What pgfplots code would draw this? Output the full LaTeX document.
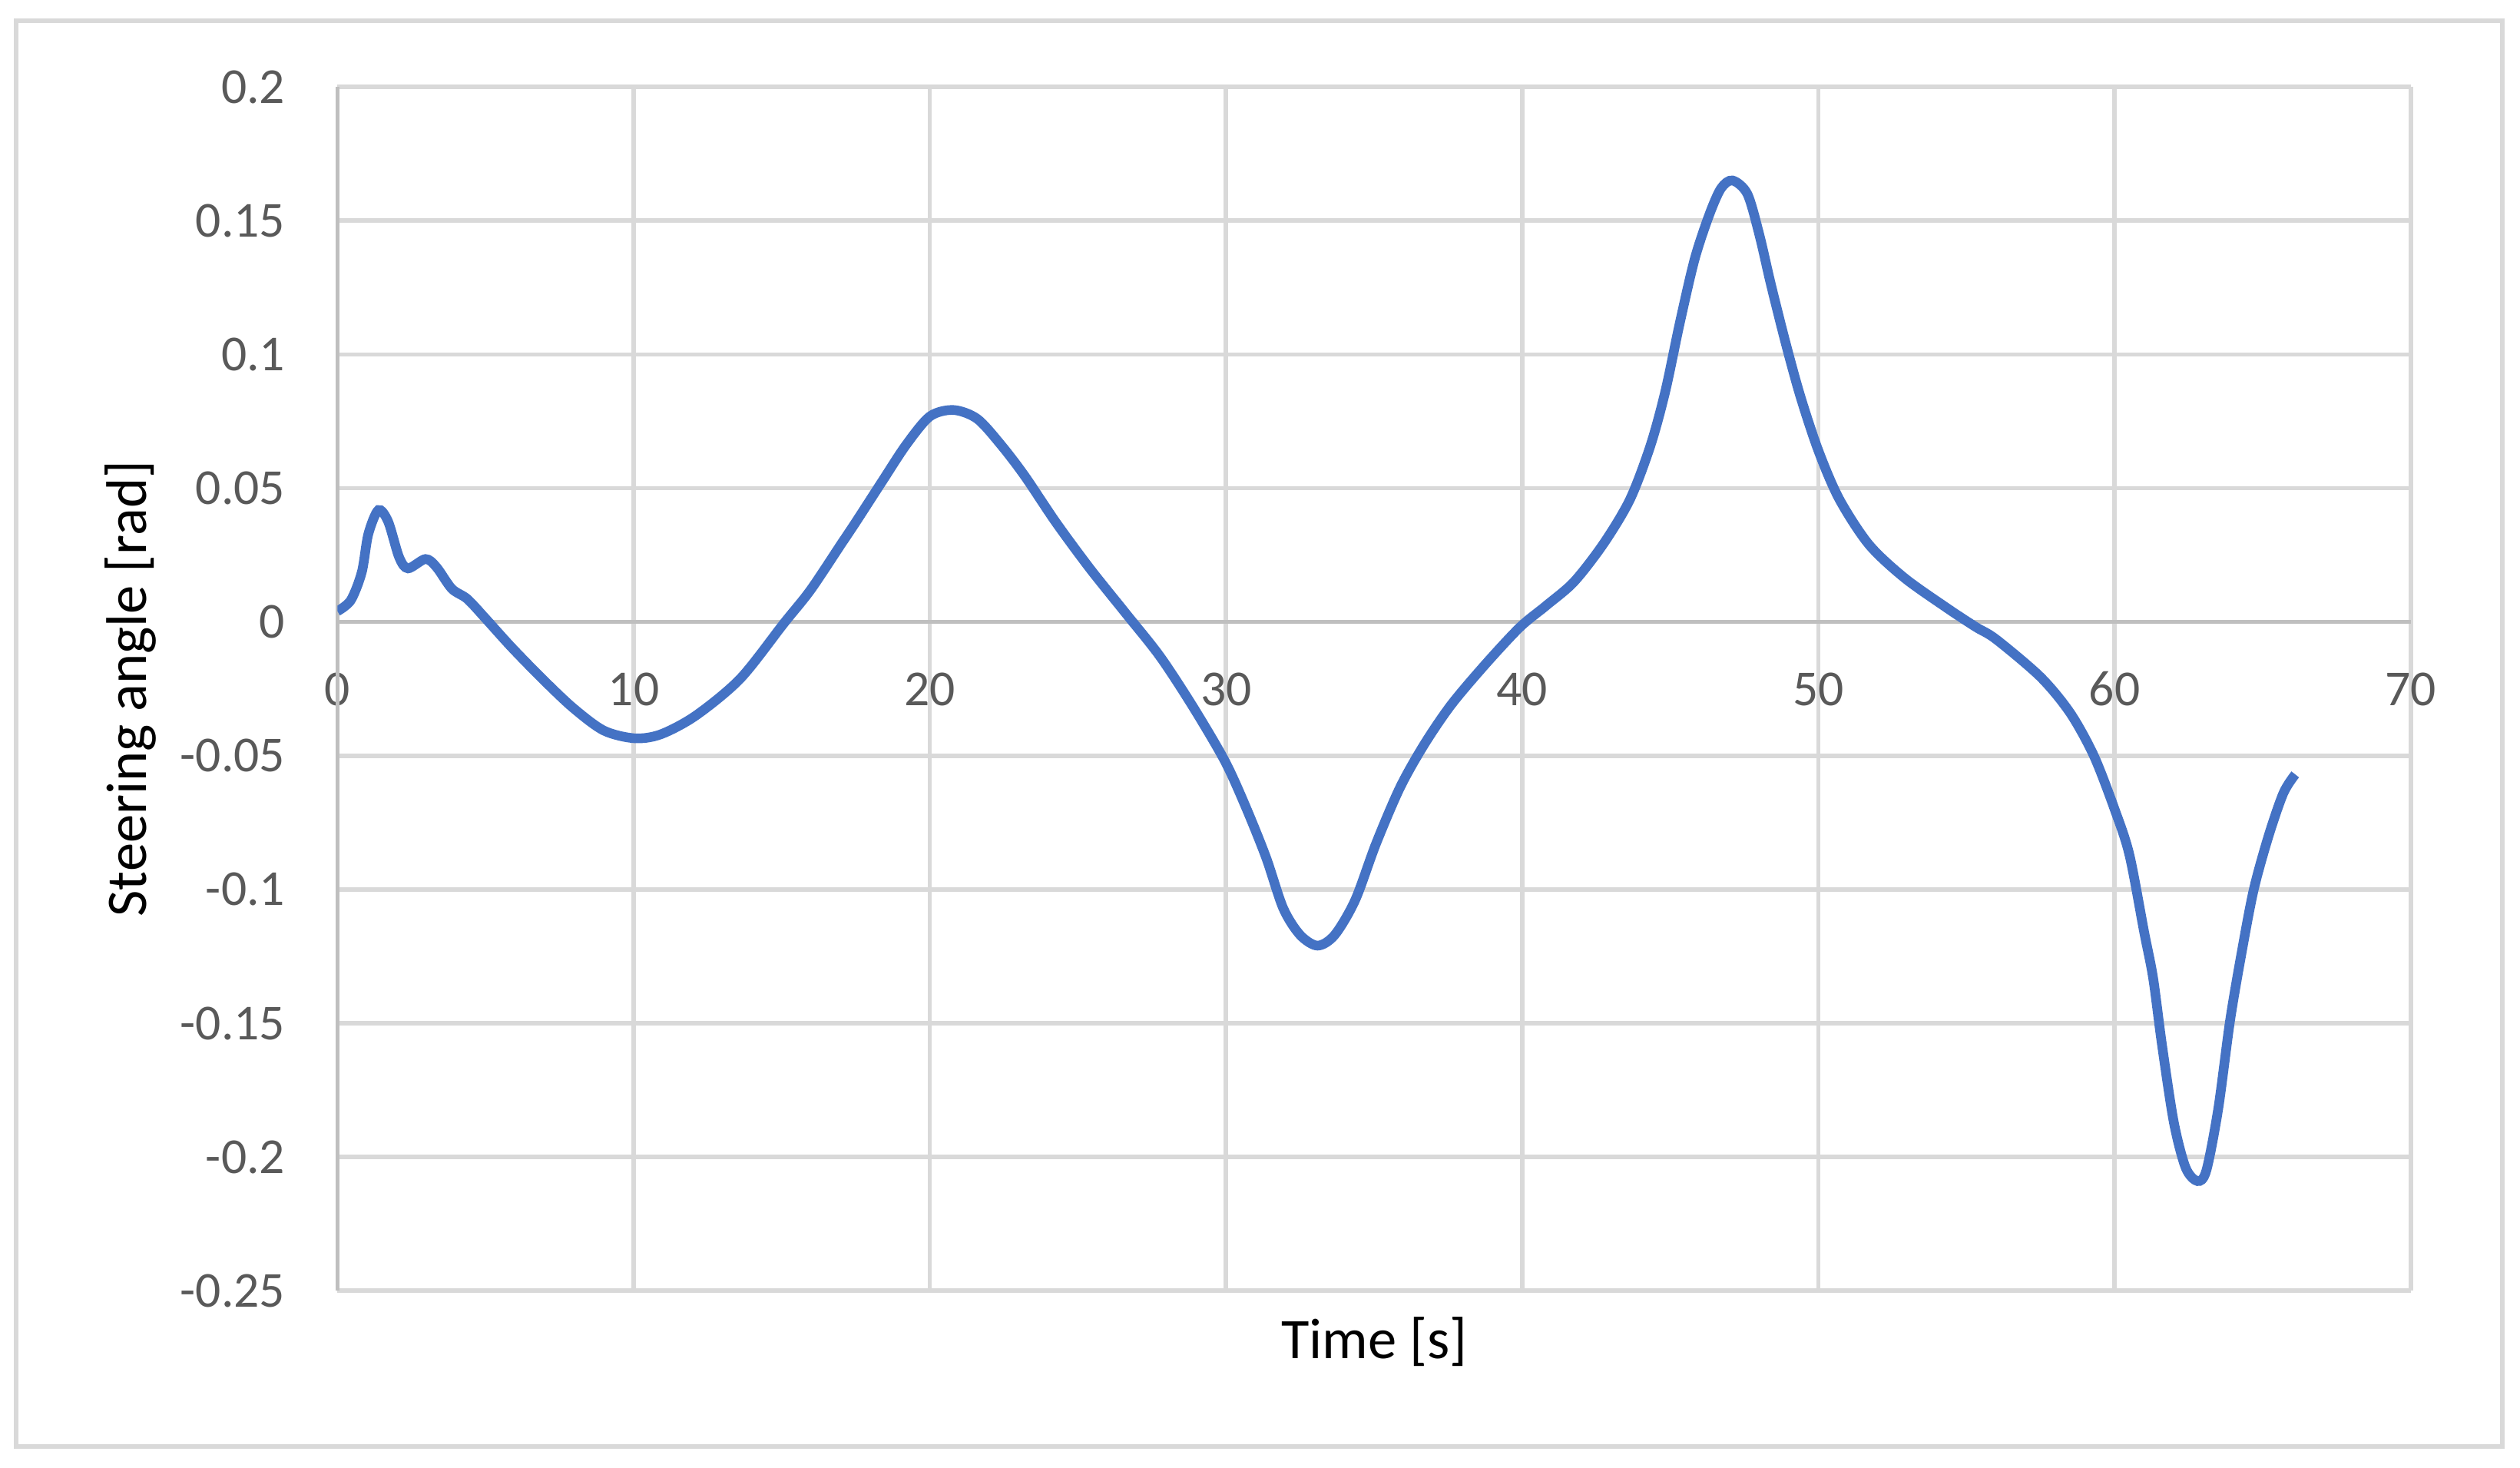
\documentclass[border=0pt]{standalone}
\usepackage{fontspec}
\setmainfont{Carlito}
\usepackage{pgfplots}
\pgfplotsset{compat=1.18}
\usepackage{pgfplotstable}

\definecolor{xlblue}{HTML}{4472C4}
\definecolor{xlgrid}{HTML}{D9D9D9}
\definecolor{xlaxis}{HTML}{BFBFBF}
\definecolor{xltext}{HTML}{595959}

% steering angle
\pgfplotstableread{
t      angle
0.00   0.0040
0.45   0.0081
0.82   0.0186
1.04   0.0328
1.38   0.0418
1.71   0.0375
2.08   0.0242
2.38   0.0200
2.97   0.0235
3.34   0.0205
3.86   0.0124
4.38   0.0086
4.98   0.0015
5.87  -0.0094
6.91  -0.0212
7.95  -0.0321
8.99  -0.0406
10.03 -0.0435
10.92 -0.0420
12.10 -0.0350
13.60 -0.0212
15.08 -0.0004
15.97  0.0119
17.00  0.0290
17.50  0.0373
18.40  0.0527
19.20  0.0662
20.00  0.0768
20.80  0.0792
21.60  0.0759
22.40  0.0662
23.20  0.0546
24.25  0.0373
25.40  0.0200
26.60  0.0034
27.77 -0.0129
28.90 -0.0320
29.96 -0.0520
30.66 -0.0690
31.35 -0.0880
31.93 -0.1070
32.50 -0.1170
33.09 -0.1210
33.67 -0.1170
34.36 -0.1040
35.06 -0.0830
35.87 -0.0620
36.68 -0.0460
37.60 -0.0310
38.76 -0.0158
39.92 -0.0020
40.80  0.0060
41.75  0.0150
42.75  0.0293
43.64  0.0458
44.33  0.0659
44.83  0.0861
45.32  0.1117
45.82  0.1355
46.31  0.1520
46.71  0.1620
47.10  0.1650
47.60  0.1600
48.00  0.1450
48.40  0.1260
48.90  0.1040
49.40  0.0840
50.00  0.0640
50.70  0.0460
51.70  0.0290
52.90  0.0165
54.30  0.0055
55.30 -0.0018
56.00 -0.0065
57.50 -0.0206
58.50 -0.0340
59.30 -0.0500
60.00 -0.0700
60.50 -0.0870
61.00 -0.1160
61.30 -0.1330
61.60 -0.1580
62.00 -0.1870
62.40 -0.2040
62.80 -0.2090
63.10 -0.2050
63.50 -0.1820
63.90 -0.1490
64.30 -0.1230
64.70 -0.1000
65.20 -0.0800
65.70 -0.0640
66.10 -0.0570
}\steering

\begin{document}
\begin{tikzpicture}
% page size and chart frame
\path (-63pt,-33pt) rectangle (407.4pt,240.9pt);
\draw[xlgrid, line width=0.9pt] (-60pt,-29.1pt) rectangle (404.1pt,237pt);

\begin{axis}[
  at={(0,0)}, anchor=south west,
  scale only axis, width=387pt, height=224.7pt,
  xmin=0, xmax=70, ymin=-0.25, ymax=0.2,
  axis line style={draw=none},
  major tick length=0pt,
  xtick={0,10,20,30,40,50,60,70},
  xticklabels={0,10,20,30,40,50,60,70},
  ytick={-0.25,-0.2,-0.15,-0.1,-0.05,0,0.05,0.1,0.15,0.2},
  yticklabels={-0.25,-0.2,-0.15,-0.1,-0.05,0,0.05,0.1,0.15,0.2},
  grid=major,
  grid style={xlgrid, line width=0.8pt},
  extra x ticks={0}, extra x tick labels={},
  extra y ticks={0}, extra y tick labels={},
  extra tick style={grid style={xlaxis, line width=0.8pt}},
  tick label style={font=\fontsize{9.4}{10}\selectfont, text=xltext},
  xticklabel style={anchor=center, inner sep=0pt, yshift=112.3pt},
  yticklabel style={anchor=east, inner sep=0pt, xshift=-9.6pt},
]
\addplot[xlblue, line width=1.8pt, smooth, tension=0.5] table[x=t, y=angle] {\steering};
\end{axis}

\node[font=\fontsize{10.7}{12}\selectfont, anchor=center] at (193.5pt,-9.5pt) {Time [s]};
\node[font=\fontsize{10.7}{12}\selectfont, anchor=center, rotate=90] at (-38.6pt,112.35pt) {Steering angle [rad]};
\end{tikzpicture}
\end{document}
